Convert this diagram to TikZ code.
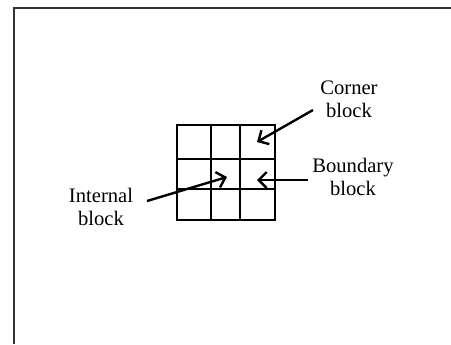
\documentclass[tikz,border=0pt]{standalone}
\usepackage{fontspec}
\setmainfont{Liberation Serif}
\usetikzlibrary{arrows.meta}

\begin{document}
\begin{tikzpicture}[x=0.5pt, y=-0.5pt,
  frame/.style={draw=black!80, line width=1.4pt},
  gridline/.style={draw, line width=1.2pt},
  label/.style={align=center, inner sep=0pt, font=\fontsize{10.3}{11.5}\selectfont},
  pointer/.style={-{Straight Barb[length=4pt, width=8pt]}, line width=1.2pt}
]
\useasboundingbox (0,0) rectangle (451,344);
\draw[frame] (451,8) -- (14,8) -- (14,344);

% 3x3 block grid
\draw[gridline] (177,125) rectangle (275,220);
\foreach \xv in {211,240} \draw[gridline] (\xv,125) -- (\xv,220);
\foreach \yv in {159,189} \draw[gridline] (177,\yv) -- (275,\yv);

\node[label] (corner) at (349,99) {Corner\\block};
\node[label] (boundary) at (353,177) {Boundary\\block};
\node[label] (internal) at (101,207) {Internal\\block};

\coordinate (cornerfrom) at (313,110);
\coordinate (cornerto) at (257,142);
\coordinate (boundfrom) at (308,180);
\coordinate (boundto) at (257,180);
\coordinate (intfrom) at (147,201);
\coordinate (intto) at (227,177);

\draw[pointer] (cornerfrom) -- (cornerto);
\draw[pointer] (boundfrom) -- (boundto);
\draw[pointer] (intfrom) -- (intto);
\end{tikzpicture}
\end{document}
